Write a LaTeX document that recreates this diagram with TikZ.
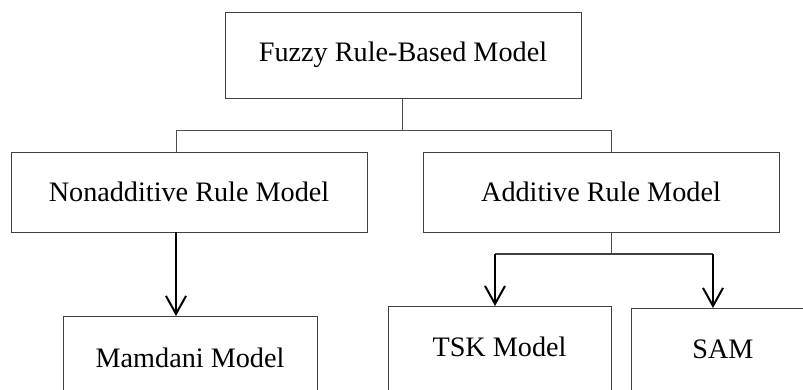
\documentclass[tikz,border=0pt]{standalone}
\usepackage{fontspec}
\setmainfont{Liberation Serif}
\usetikzlibrary{arrows.meta}
\tikzset{
  box/.style={draw=black!75, line width=0.9pt, inner sep=0pt, align=center,
    font=\fontsize{28.2}{32}\selectfont},
  lowbox/.style={box, anchor=north, text height=50pt, text depth=40pt},
  thin/.style={draw=black!70, line width=0.9pt},
  mid/.style={draw=black!75, line width=1.4pt},
  arr/.style={draw=black, line width=2pt, -{Straight Barb[length=18pt,width=20pt]}}
}
\begin{document}
\begin{tikzpicture}[x=1pt,y=-1pt]
\useasboundingbox (0,0) rectangle (803,389);
\clip (0,0) rectangle (803,389);
\node[box, minimum width=356pt, minimum height=86pt] (top) at (403,55) {Fuzzy Rule-Based Model};
\node[box, minimum width=356pt, minimum height=80pt] (nonadd) at (189,192) {Nonadditive Rule Model};
\node[box, minimum width=356pt, minimum height=80pt] (add) at (601,192) {Additive Rule Model};
\node[lowbox, minimum width=254pt, text height=51pt] (mam) at (190,316) {Mamdani Model};
\node[lowbox, minimum width=223pt] (tsk) at (499.5,306) {TSK Model};
\node[lowbox, minimum width=184pt] (sam) at (723,308) {SAM};
% upper tree
\coordinate (j1) at (402,130);
\coordinate (b1) at (176,130);
\coordinate (b2) at (611,130);
\draw[thin] (j1 |- top.south) -- (j1);
\draw[thin] (b1) -- (b2);
\draw[thin] (b1) -- (b1 |- nonadd.north);
\draw[thin] (b2) -- (b2 |- add.north);
% left arrow
\draw[arr] (b1 |- nonadd.south) -- (b1 |- mam.north);
% right branch
\coordinate (j2) at (611,254);
\coordinate (c1) at (495,254);
\coordinate (c2) at (713,254);
\draw[thin] (j2 |- add.south) -- (j2);
\draw[mid] (c1) -- (c2);
\draw[arr] (c1) -- (c1 |- tsk.north);
\draw[arr] (c2) -- (c2 |- sam.north);
\end{tikzpicture}
\end{document}
